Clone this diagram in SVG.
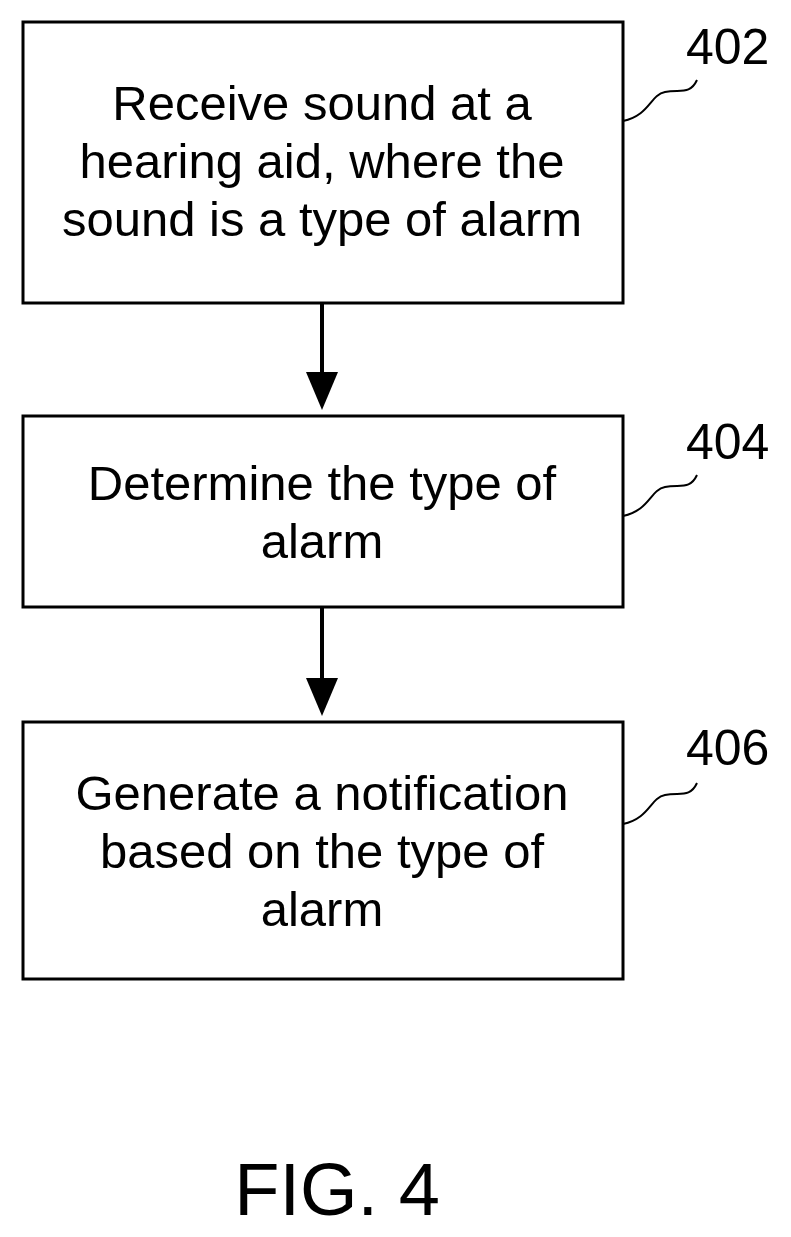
<svg xmlns="http://www.w3.org/2000/svg" width="791" height="1237" viewBox="0 0 791 1237">
<style>
.box{fill:#fff;stroke:#000;stroke-width:3}
.t{font-family:"Liberation Sans",Arial,sans-serif;font-size:49px;text-anchor:middle;fill:#000}
.r{font-family:"Liberation Sans",Arial,sans-serif;font-size:50px;fill:#000}
.sq{fill:none;stroke:#000;stroke-width:2}
.c{stroke:#000;stroke-width:4;fill:none}
</style>
<rect width="791" height="1237" fill="#fff"/>
<g id="n402"><rect class="box" x="23" y="22" width="600" height="281"/>
<text class="t" x="322" y="120">Receive sound at a</text><text class="t" x="322" y="178">hearing aid, where the</text><text class="t" x="322" y="236">sound is a type of alarm</text>
<text class="r" x="686" y="64">402</text><path class="sq" d="M623,121 C650,115 650,95 665,92 C680,89 690,95 697,80"/></g>
<g id="n404"><rect class="box" x="23" y="416" width="600" height="191"/>
<text class="t" x="322" y="500">Determine the type of</text><text class="t" x="322" y="558">alarm</text>
<text class="r" x="686" y="459">404</text><path class="sq" d="M623,516 C650,510 650,490 665,487 C680,484 690,490 697,475"/></g>
<g id="n406"><rect class="box" x="23" y="722" width="600" height="257"/>
<text class="t" x="322" y="810">Generate a notification</text><text class="t" x="322" y="868">based on the type of</text><text class="t" x="322" y="926">alarm</text>
<text class="r" x="686" y="765">406</text><path class="sq" d="M623,824 C650,818 650,798 665,795 C680,792 690,798 697,783"/></g>
<g id="connectors">
<line class="c" x1="322" y1="303" x2="322" y2="375"/><path d="M306,372 L338,372 L322,410 z"/>
<line class="c" x1="322" y1="607" x2="322" y2="681"/><path d="M306,678 L338,678 L322,716 z"/>
</g>
<text x="337" y="1215" style="font-family:'Liberation Sans',Arial,sans-serif;font-size:74px;text-anchor:middle">FIG. 4</text>
</svg>
